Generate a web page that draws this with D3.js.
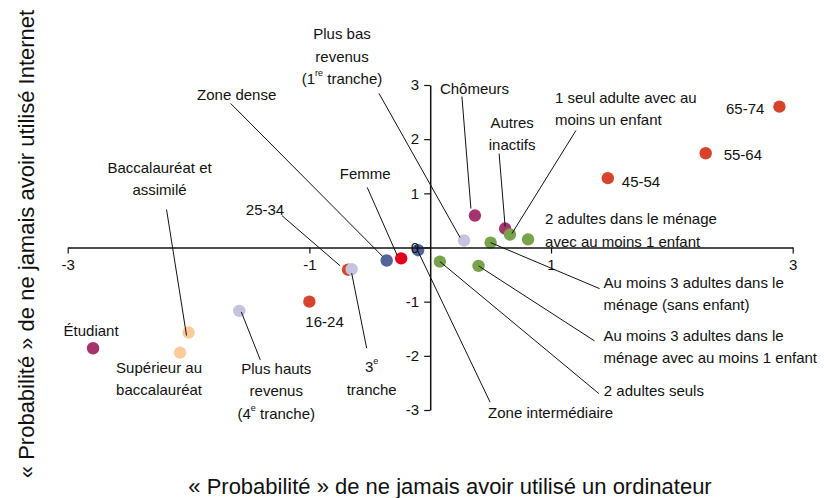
<!DOCTYPE html>
<html>
  <head>
    <meta charset="UTF-8">
    <script src="https://d3js.org/d3.v7.min.js"></script>
    <style>
      body { margin: 0; background: #fff; }
      svg text { font-family: "Liberation Sans", Arial, sans-serif; fill: #111; }
    </style>
  </head>
  <body>
    <svg id="chart" width="824" height="498"></svg>
    <script>
      // categories and their coordinates
      var categories = ["65-74", "55-64", "45-54", "25-34", "16-24",
        "Chômeurs", "Autres inactifs", "Étudiant",
        "1 seul adulte avec au moins un enfant", "2 adultes dans le ménage avec au moins 1 enfant",
        "Au moins 3 adultes dans le ménage (sans enfant)", "Au moins 3 adultes dans le ménage avec au moins 1 enfant",
        "2 adultes seuls",
        "Plus bas revenus (1re tranche)", "3e tranche", "Plus hauts revenus (4e tranche)",
        "Zone intermédiaire", "Zone dense", "Femme",
        "Baccalauréat et assimilé", "Supérieur au baccalauréat"];
      var xValues = [2.89, 2.28, 1.47, -0.68, -1.00,
        0.37, 0.62, -2.79,
        0.66, 0.81, 0.50, 0.40, 0.08,
        0.28, -0.65, -1.58,
        -0.10, -0.36, -0.24,
        -2.00, -2.07];
      var yValues = [2.60, 1.74, 1.28, -0.41, -1.00,
        0.59, 0.35, -1.86,
        0.24, 0.15, 0.09, -0.34, -0.26,
        0.13, -0.40, -1.17,
        -0.05, -0.24, -0.20,
        -1.57, -1.94];
      var groups = ["age", "age", "age", "age", "age",
        "activite", "activite", "activite",
        "menage", "menage", "menage", "menage", "menage",
        "revenu", "revenu", "revenu",
        "zone", "zone", "sexe",
        "diplome", "diplome"];

      var xTicks = [-3, -1, 1, 3];
      var yTicks = [-3, -2, -1, 0, 1, 2, 3];

      var groupColors = {
        age: "#d6452b", activite: "#a5336d", menage: "#79a24c",
        revenu: "#c4c4de", zone: "#53639c", sexe: "#e4001c", diplome: "#fdcb99"
      };

      // label layout: text lines, anchor, offset of first line from the point,
      // leader line [x1, y1, x2, y2] as offsets from the point (px)
      var labels = {
        "65-74": {lines: ["65-74"], anchor: "end", dx: -15, dy: 1},
        "55-64": {lines: ["55-64"], anchor: "start", dx: 18, dy: 1},
        "45-54": {lines: ["45-54"], anchor: "start", dx: 14, dy: 3},
        "25-34": {lines: ["25-34"], anchor: "middle", dx: -83, dy: -61, leader: [-66, -54, -8, -4]},
        "16-24": {lines: ["16-24"], anchor: "start", dx: -4, dy: 19},
        "Chômeurs": {lines: ["Chômeurs"], anchor: "start", dx: -35, dy: -128, leader: [-13, -119, -4, -7]},
        "Autres inactifs": {lines: ["Autres", "inactifs"], anchor: "middle", dx: 7, dy: -107, leader: [-6, -75, 0, -2]},
        "Étudiant": {lines: ["Étudiant"], anchor: "middle", dx: -2, dy: -18},
        "1 seul adulte avec au moins un enfant": {lines: ["1 seul adulte avec au", "moins un enfant"], anchor: "start", dx: 45, dy: -138, leader: [66, -104, 2, -1]},
        "2 adultes dans le ménage avec au moins 1 enfant": {lines: ["2 adultes dans le ménage", "avec au moins 1 enfant"], anchor: "start", dx: 17, dy: -21},
        "Au moins 3 adultes dans le ménage (sans enfant)": {lines: ["Au moins 3 adultes dans le", "ménage (sans enfant)"], anchor: "start", dx: 113, dy: 39, leader: [109, 46, 0, 0]},
        "Au moins 3 adultes dans le ménage avec au moins 1 enfant": {lines: ["Au moins 3 adultes dans le", "ménage avec au moins 1 enfant"], anchor: "start", dx: 125, dy: 69, leader: [116, 75, 0, 0]},
        "2 adultes seuls": {lines: ["2 adultes seuls"], anchor: "start", dx: 164, dy: 128, leader: [159, 132, 0, 0]},
        "Plus bas revenus (1re tranche)": {lines: ["Plus bas", "revenus", "(1^re^ tranche)"], anchor: "middle", dx: -122, dy: -207, leader: [-85, -147, -4, -3]},
        "3e tranche": {lines: ["3^e^", "tranche"], anchor: "middle", dx: 20, dy: 97, leader: [15, 79, 0, 4]},
        "Plus hauts revenus (4e tranche)": {lines: ["Plus hauts", "revenus", "(4^e^ tranche)"], anchor: "middle", dx: 37, dy: 57, leader: [21, 49, 2, 1]},
        "Zone intermédiaire": {lines: ["Zone intermédiaire"], anchor: "start", dx: 70, dy: 162, leader: [72, 152, -3, -5]},
        "Zone dense": {lines: ["Zone dense"], anchor: "middle", dx: -150, dy: -167, leader: [-156, -157, -4, -4]},
        "Femme": {lines: ["Femme"], anchor: "middle", dx: -36, dy: -85, leader: [-34, -71, -4, -3]},
        "Baccalauréat et assimilé": {lines: ["Baccalauréat et", "assimilé"], anchor: "middle", dx: -29, dy: -166, leader: [-22, -123, -2, 3]},
        "Supérieur au baccalauréat": {lines: ["Supérieur au", "baccalauréat"], anchor: "middle", dx: -21, dy: 14}
      };

      var points = categories.map(function(c, i) {
        return {name: c, x: xValues[i], y: yValues[i], group: groups[i]};
      });

      var svg = d3.select("#chart");

      var x = d3.scaleLinear().domain([-3, 3]).range([67.7, 792.7]);
      var y = d3.scaleLinear().domain([-3, 3]).range([410, 85]);

      // points
      svg.append("g")
        .selectAll("circle")
        .data(points)
        .enter().append("circle")
          .attr("cx", function(d) { return x(d.x); })
          .attr("cy", function(d) { return y(d.y); })
          .attr("r", 6.2)
          .attr("fill", function(d) { return groupColors[d.group]; });

      // axes crossing at the origin
      var xAxis = svg.append("g")
        .attr("transform", "translate(0," + y(0) + ")")
        .call(d3.axisBottom(x).tickValues(xTicks).tickSize(6).tickSizeOuter(0).tickPadding(6)
          .tickFormat(d3.format("d")));
      var yAxis = svg.append("g")
        .attr("transform", "translate(" + x(0) + ",0)")
        .call(d3.axisLeft(y).tickValues(yTicks).tickSize(6).tickSizeOuter(0).tickPadding(5)
          .tickFormat(d3.format("d")));

      [xAxis, yAxis].forEach(function(a) {
        a.select(".domain").attr("stroke", "#111").attr("stroke-width", 1.5);
        a.selectAll(".tick line").attr("stroke", "#111").attr("stroke-width", 1.2);
        a.selectAll(".tick text").attr("font-size", 15).attr("fill", "#111")
          .style("font-family", "'Liberation Sans', Arial, sans-serif")
          .text(function(d) { return d < 0 ? "-" + Math.abs(d) : d; });
      });

      // leader lines
      svg.append("g")
        .selectAll("line")
        .data(points.filter(function(d) { return labels[d.name].leader; }))
        .enter().append("line")
          .attr("x1", function(d) { return x(d.x) + labels[d.name].leader[0]; })
          .attr("y1", function(d) { return y(d.y) + labels[d.name].leader[1]; })
          .attr("x2", function(d) { return x(d.x) + labels[d.name].leader[2]; })
          .attr("y2", function(d) { return y(d.y) + labels[d.name].leader[3]; })
          .attr("stroke", "#111")
          .attr("stroke-width", 1);

      // labels ("^...^" marks a superscript)
      var lineHeight = 22.5;
      var labelG = svg.append("g");
      points.forEach(function(d) {
        var lab = labels[d.name];
        var t = labelG.append("text")
          .attr("font-size", 15)
          .attr("text-anchor", lab.anchor)
          .attr("dominant-baseline", "central");
        lab.lines.forEach(function(line, i) {
          var row = t.append("tspan")
            .attr("x", x(d.x) + lab.dx)
            .attr("y", y(d.y) + lab.dy + i * lineHeight);
          line.split("^").forEach(function(part, j) {
            if (!part) return;
            var s = row.append("tspan").text(part);
            if (j % 2 == 1)
              s.attr("font-size", 9).attr("dy", -5);
            else if (j > 0)
              s.attr("dy", 5);
          });
        });
      });

      // axis titles
      svg.append("text")
        .attr("x", 450)
        .attr("y", 494)
        .attr("text-anchor", "middle")
        .attr("font-size", 22)
        .text("« Probabilité » de ne jamais avoir utilisé un ordinateur");
      svg.append("text")
        .attr("transform", "translate(34,244) rotate(-90)")
        .attr("text-anchor", "middle")
        .attr("font-size", 22)
        .text("« Probabilité » de ne jamais avoir utilisé Internet");
    </script>
  </body>
</html>
